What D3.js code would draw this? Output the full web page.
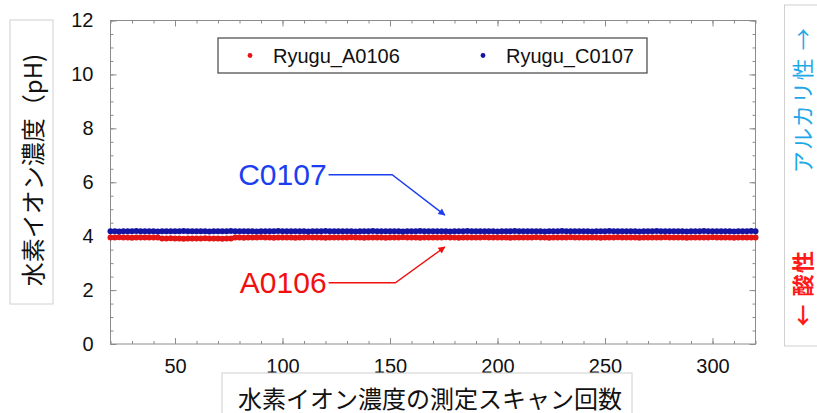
<!DOCTYPE html>
<html>
<head>
<meta charset="utf-8">
<script src="https://cdn.jsdelivr.net/npm/d3@7"></script>
<style>
  body { margin: 0; background: #fff; }
  text { font-family: "Liberation Sans", Arial, "Noto Sans CJK JP", sans-serif; }
  .jp { font-family: "Noto Sans CJK JP", "Liberation Sans", sans-serif; }
</style>
</head>
<body>
<div id="chart"></div>
<script>
// scan numbers (every 2nd scan) and measured pH
const scans = d3.range(20, 321, 2);

const phA0106 = [
  3.95, 3.95, 3.96, 3.95, 3.95, 3.94, 3.95, 3.95, 3.95, 3.95,
  3.95, 3.95, 3.91, 3.91, 3.92, 3.91, 3.91, 3.90, 3.91, 3.91,
  3.91, 3.91, 3.92, 3.91, 3.91, 3.91, 3.90, 3.91, 3.91, 3.95,
  3.95, 3.94, 3.95, 3.95, 3.95, 3.96, 3.95, 3.95, 3.94, 3.95,
  3.95, 3.95, 3.95, 3.94, 3.95, 3.95, 3.96, 3.95, 3.95, 3.95,
  3.94, 3.95, 3.95, 3.95, 3.95, 3.95, 3.96, 3.95, 3.95, 3.94,
  3.95, 3.95, 3.95, 3.95, 3.94, 3.95, 3.95, 3.95, 3.96, 3.95,
  3.95, 3.95, 3.94, 3.95, 3.95, 3.95, 3.95, 3.95, 3.96, 3.95,
  3.95, 3.94, 3.95, 3.95, 3.95, 3.95, 3.95, 3.96, 3.95, 3.95,
  3.95, 3.95, 3.95, 3.94, 3.95, 3.95, 3.95, 3.95, 3.95, 3.96,
  3.95, 3.95, 3.94, 3.95, 3.95, 3.95, 3.95, 3.96, 3.95, 3.95,
  3.95, 3.95, 3.95, 3.95, 3.94, 3.95, 3.95, 3.95, 3.96, 3.95,
  3.95, 3.95, 3.95, 3.94, 3.95, 3.95, 3.95, 3.95, 3.95, 3.96,
  3.95, 3.95, 3.95, 3.95, 3.94, 3.95, 3.95, 3.95, 3.95, 3.95,
  3.96, 3.95, 3.95, 3.95, 3.95, 3.94, 3.95, 3.95, 3.95, 3.95,
  3.95
];

const phC0107 = [
  4.18, 4.18, 4.17, 4.18, 4.18, 4.18, 4.19, 4.18, 4.18, 4.18,
  4.18, 4.17, 4.18, 4.18, 4.18, 4.18, 4.18, 4.19, 4.18, 4.18,
  4.18, 4.18, 4.18, 4.17, 4.18, 4.18, 4.18, 4.18, 4.19, 4.18,
  4.18, 4.18, 4.18, 4.18, 4.17, 4.18, 4.18, 4.18, 4.18, 4.19,
  4.18, 4.18, 4.18, 4.18, 4.18, 4.18, 4.17, 4.18, 4.18, 4.18,
  4.19, 4.18, 4.18, 4.18, 4.18, 4.18, 4.18, 4.17, 4.18, 4.18,
  4.18, 4.19, 4.18, 4.18, 4.18, 4.18, 4.18, 4.18, 4.17, 4.18,
  4.18, 4.18, 4.19, 4.18, 4.18, 4.18, 4.18, 4.18, 4.18, 4.17,
  4.18, 4.18, 4.18, 4.19, 4.18, 4.18, 4.18, 4.18, 4.18, 4.18,
  4.17, 4.18, 4.18, 4.18, 4.19, 4.18, 4.18, 4.18, 4.18, 4.18,
  4.18, 4.17, 4.18, 4.18, 4.18, 4.19, 4.18, 4.18, 4.18, 4.18,
  4.18, 4.18, 4.17, 4.18, 4.18, 4.18, 4.19, 4.18, 4.18, 4.18,
  4.18, 4.18, 4.18, 4.17, 4.18, 4.18, 4.18, 4.19, 4.18, 4.18,
  4.18, 4.18, 4.18, 4.18, 4.17, 4.18, 4.18, 4.18, 4.19, 4.18,
  4.18, 4.18, 4.18, 4.18, 4.18, 4.17, 4.18, 4.18, 4.18, 4.19,
  4.18
];

const seriesNames = ["Ryugu_A0106", "Ryugu_C0107"];
const xMajorTicks = [50, 100, 150, 200, 250, 300];
const yMajorTicks = [0, 2, 4, 6, 8, 10, 12];

// Dimensions
const W = 817, H = 413;
const margin = { top: 20.5, right: 61.5, bottom: 69, left: 110.5 };

const svg = d3.select("#chart").append("svg")
  .attr("width", W).attr("height", H);

const x = d3.scaleLinear().domain([20, 320]).range([margin.left, W - margin.right]);
const y = d3.scaleLinear().domain([0, 12]).range([H - margin.bottom, margin.top]);

const axisColor = "#8c8c8c";

// Axes (ticks inward, all four sides)
function styleAxis(g, labels) {
  g.select(".domain").remove();
  g.selectAll(".tick line").attr("stroke", axisColor);
  g.selectAll(".tick text")
    .attr("fill", labels ? "#111" : "none")
    .style("font-size", "20px");
}
const xMinor = d3.range(20, 321, 10);
const yMinor = d3.range(0, 12.01, 0.5);

svg.append("g").attr("transform", `translate(0,${y(0)})`)
  .call(d3.axisBottom(x).tickValues(xMinor).tickSize(-3).tickFormat(""))
  .call(g => styleAxis(g, false));
svg.append("g").attr("transform", `translate(0,${y(0)})`)
  .call(d3.axisBottom(x).tickValues(xMajorTicks).tickSize(-6).tickPadding(15))
  .call(g => styleAxis(g, true));
svg.append("g").attr("transform", `translate(0,${y(12)})`)
  .call(d3.axisTop(x).tickValues(xMinor).tickSize(-3).tickFormat(""))
  .call(g => styleAxis(g, false));
svg.append("g").attr("transform", `translate(0,${y(12)})`)
  .call(d3.axisTop(x).tickValues(xMajorTicks).tickSize(-6).tickFormat(""))
  .call(g => styleAxis(g, false));

svg.append("g").attr("transform", `translate(${x(20)},0)`)
  .call(d3.axisLeft(y).tickValues(yMinor).tickSize(-3).tickFormat(""))
  .call(g => styleAxis(g, false));
svg.append("g").attr("transform", `translate(${x(20)},0)`)
  .call(d3.axisLeft(y).tickValues(yMajorTicks).tickSize(-6).tickPadding(17))
  .call(g => styleAxis(g, true));
svg.append("g").attr("transform", `translate(${x(320)},0)`)
  .call(d3.axisRight(y).tickValues(yMinor).tickSize(-3).tickFormat(""))
  .call(g => styleAxis(g, false));
svg.append("g").attr("transform", `translate(${x(320)},0)`)
  .call(d3.axisRight(y).tickValues(yMajorTicks).tickSize(-6).tickFormat(""))
  .call(g => styleAxis(g, false));

// frame
svg.append("rect")
  .attr("x", x(20)).attr("y", y(12))
  .attr("width", x(320) - x(20)).attr("height", y(0) - y(12))
  .attr("fill", "none").attr("stroke", axisColor);

// Data points
const colors = ["#e31414", "#1414a0"];
[phA0106, phC0107].forEach((vals, i) => {
  svg.append("g").selectAll("circle")
    .data(scans)
    .join("circle")
    .attr("cx", d => x(d))
    .attr("cy", (d, j) => y(vals[j]))
    .attr("r", 3)
    .attr("fill", colors[i]);
});

// Legend
const legend = svg.append("g");
legend.append("rect")
  .attr("x", 218).attr("y", 38).attr("width", 429).attr("height", 35)
  .attr("fill", "#fff").attr("stroke", "#444").attr("stroke-width", 1.2);
const legX = [250, 483];
seriesNames.forEach((name, i) => {
  legend.append("circle").attr("cx", legX[i]).attr("cy", 55.5).attr("r", 2.4).attr("fill", colors[i]);
  legend.append("text").attr("x", legX[i] + 23).attr("y", 56)
    .attr("dominant-baseline", "central")
    .style("font-size", "20px").attr("fill", "#111").text(name);
});

// Annotations with arrows
const defs = svg.append("defs");
function marker(id, color) {
  defs.append("marker").attr("id", id)
    .attr("viewBox", "0 0 10 10").attr("refX", 9).attr("refY", 5)
    .attr("markerWidth", 9).attr("markerHeight", 7).attr("orient", "auto")
    .attr("markerUnits", "userSpaceOnUse")
    .append("path").attr("d", "M0,0 L10,5 L0,10 Z").attr("fill", color);
}
const notes = [
  { text: "C0107", color: "#1b3ff0", textEnd: 120.5, textPh: 6.28, elbow: 151, tip: 175.5, tipPh: 4.78 },
  { text: "A0106", color: "#f01010", textEnd: 120.5, textPh: 2.27, elbow: 152.5, tip: 175.5, tipPh: 3.6 }
];
notes.forEach((n, i) => {
  marker("arr" + i, n.color);
  svg.append("text")
    .attr("x", x(n.textEnd)).attr("y", y(n.textPh))
    .attr("text-anchor", "end").attr("dominant-baseline", "central")
    .style("font-size", "30px").attr("fill", n.color).text(n.text);
  svg.append("path")
    .attr("d", `M${x(n.textEnd) + 2},${y(n.textPh)} L${x(n.elbow)},${y(n.textPh)} L${x(n.tip)},${y(n.tipPh)}`)
    .attr("fill", "none").attr("stroke", n.color).attr("stroke-width", 1.4)
    .attr("marker-end", `url(#arr${i})`);
});

// Y axis title
svg.append("rect").attr("x", 10).attr("y", 20).attr("width", 43).attr("height", 284)
  .attr("fill", "none").attr("stroke", "#d0d0d0");
svg.append("text").attr("class", "jp")
  .attr("transform", "translate(31.5,170) rotate(-90)")
  .attr("text-anchor", "middle").attr("dominant-baseline", "central")
  .style("font-size", "24px").attr("fill", "#111").text("水素イオン濃度（pH)");

// X axis title
svg.append("rect").attr("x", 222).attr("y", 373).attr("width", 410).attr("height", 45)
  .attr("fill", "none").attr("stroke", "#d0d0d0");
svg.append("text").attr("class", "jp")
  .attr("x", 430).attr("y", 397)
  .attr("text-anchor", "middle").attr("dominant-baseline", "central")
  .style("font-size", "24px").attr("fill", "#111").text("水素イオン濃度の測定スキャン回数");

// Right side label
svg.append("rect").attr("x", 784.5).attr("y", 5).attr("width", 40).attr("height", 341)
  .attr("fill", "none").attr("stroke", "#d0d0d0");
svg.append("text").attr("class", "jp")
  .attr("transform", "translate(800.5,100) rotate(-90)")
  .attr("text-anchor", "middle").attr("dominant-baseline", "central")
  .style("font-size", "22px").style("letter-spacing", "1.5px")
  .attr("fill", "#1fa8e8").text("アルカリ性 →");
svg.append("text").attr("class", "jp")
  .attr("transform", "translate(800.5,288) rotate(-90)")
  .attr("text-anchor", "middle").attr("dominant-baseline", "central")
  .style("font-size", "22px").style("font-weight", "bold").style("letter-spacing", "1.5px")
  .attr("fill", "#ff1a1a").text("← 酸性");
</script>
</body>
</html>
